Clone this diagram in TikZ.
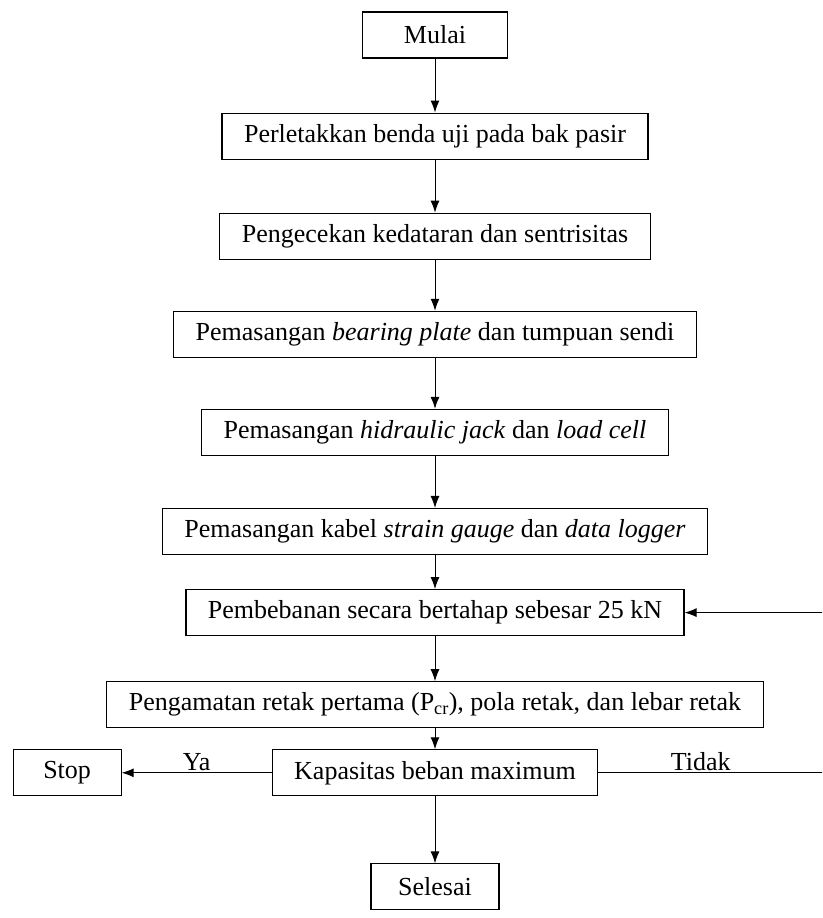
\documentclass[tikz,border=0pt]{standalone}
\usepackage{fontspec}
\setmainfont{Liberation Serif}
\usetikzlibrary{positioning,arrows.meta}

\tikzset{stepbox/.style={rectangle, draw=black, line width=1.1pt, minimum height=46pt, inner xsep=22pt, font=\fontsize{26}{30}\selectfont},
    flow/.style={-{Latex[length=12pt,width=9pt]}, line width=1pt}}

\begin{document}
\begin{tikzpicture}[x=1pt,y=1pt]
        \clip (0,0) rectangle (822,-918);
        \node[stepbox, minimum width=145pt](mulai) at (435,-35) {Mulai};
        \node[stepbox](letak) [below=54pt of mulai] {Perletakkan benda uji pada bak pasir};
        \node[stepbox](cek) [below=53pt of letak] {Pengecekan kedataran dan sentrisitas};
        \node[stepbox](plate) [below=51pt of cek] {Pemasangan \textit{bearing plate} dan tumpuan sendi};
        \node[stepbox](jack) [below=51pt of plate] {Pemasangan \textit{hidraulic jack} dan \textit{load cell}};
        \node[stepbox](kabel) [below=52pt of jack] {Pemasangan kabel \textit{strain gauge} dan \textit{data logger}};
        \node[stepbox](beban) [below=34pt of kabel] {Pembebanan secara bertahap sebesar 25 kN};
        \node[stepbox](amat) [below=45pt of beban] {Pengamatan retak pertama (P\textsubscript{cr}), pola retak, dan lebar retak};
        \node[stepbox](kapasitas) [below=21pt of amat] {Kapasitas beban maximum};
        \node[stepbox, minimum width=108pt](stop) [left=150pt of kapasitas] {Stop};
        \node[stepbox, minimum width=128pt](selesai) [below=67pt of kapasitas] {Selesai};
        \coordinate (rim) at (826,0);

        \draw[flow] (mulai.south) -- (letak.north);
        \draw[flow] (letak.south) -- (cek.north);
        \draw[flow] (cek.south) -- (plate.north);
        \draw[flow] (plate.south) -- (jack.north);
        \draw[flow] (jack.south) -- (kabel.north);
        \draw[flow] (kabel.south) -- (beban.north);
        \draw[flow] (beban.south) -- (amat.north);
        \draw[flow] (amat.south) -- (kapasitas.north);
        \draw[flow] (kapasitas.west) -- node[above=2pt, inner sep=0pt, font=\fontsize{26}{30}\selectfont, pos=0.5] {Ya} (stop.east);
        \draw[flow] (kapasitas.south) -- (selesai.north);
        \draw[flow] (kapasitas.east) -- node[above=2pt, inner sep=0pt, font=\fontsize{26}{30}\selectfont, pos=0.45] {Tidak} (kapasitas.east -| rim) |- (beban.east);
    \end{tikzpicture}
\end{document}
